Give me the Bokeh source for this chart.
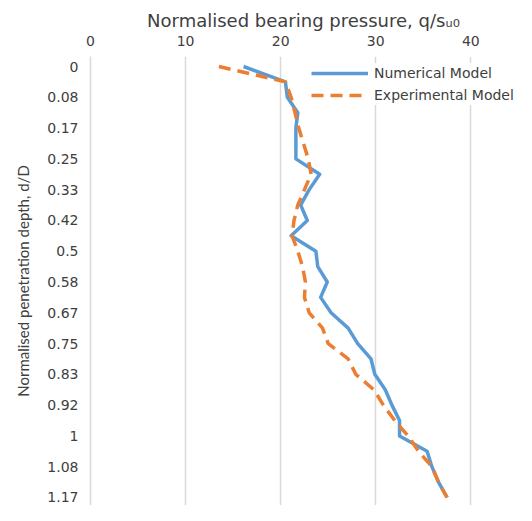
from bokeh.plotting import figure
from bokeh.models import Range1d, FixedTicker, Legend, LegendItem
from bokeh.embed import file_html
from bokeh.resources import INLINE

# depth d/D (every 1/24)
depth = [0.0, 0.0417, 0.0833, 0.125, 0.1667, 0.2083, 0.25, 0.2917, 0.3333, 0.375,
         0.4167, 0.4583, 0.5, 0.5417, 0.5833, 0.625, 0.6667, 0.7083, 0.75, 0.7917,
         0.8333, 0.875, 0.9167, 0.9583, 1.0, 1.0417, 1.0833, 1.125, 1.1667]

numerical = [16.1, 20.5, 20.7, 21.8, 21.6, 21.6, 21.6, 24.1, 23.0, 22.1,
             22.8, 21.1, 23.7, 23.9, 24.9, 24.2, 25.3, 27.1, 28.1, 29.5,
             29.9, 31.0, 31.7, 32.5, 32.5, 35.4, 35.9, 36.6, 37.5]

experimental = [13.5, 20.5, 21.1, 21.5, 21.9, 22.4, 22.9, 23.2, 22.5, 21.8,
                21.4, 21.2, 21.8, 22.3, 22.6, 22.5, 23.0, 24.4, 25.0, 27.1,
                27.9, 29.8, 30.8, 32.0, 33.4, 34.5, 35.9, 36.6, 37.5]

tick_pos = [0.0, 0.0833, 0.1667, 0.25, 0.3333, 0.4167, 0.5, 0.5833, 0.6667,
            0.75, 0.8333, 0.9167, 1.0, 1.0833, 1.1667]
tick_labels = ["0", "0.08", "0.17", "0.25", "0.33", "0.42", "0.5", "0.58", "0.67",
               "0.75", "0.83", "0.92", "1", "1.08", "1.17"]
x_ticks = [0, 10, 20, 30, 40]

p = figure(width=516, height=505, output_backend="svg", toolbar_location=None,
           x_axis_location="above",
           x_range=Range1d(0, 44.8), y_range=Range1d(1.1884, -0.0271),
           min_border_left=90, min_border_right=0, min_border_top=56, min_border_bottom=0)
p.outline_line_color = None
p.background_fill_color = "white"
p.border_fill_color = "white"

r1 = p.line(numerical, depth, line_color="#5B9BD5", line_width=3.5, line_join="round")
r2 = p.line(experimental, depth, line_color="#ED7D31", line_width=3.5, line_dash="12 7")

# x axis (top)
xa = p.xaxis[0]
xa.ticker = FixedTicker(ticks=x_ticks)
xa.axis_label = "Normalised bearing pressure, q/s\u1d64\u2080"
xa.axis_label_text_font = "DejaVu Sans"
xa.axis_label_text_font_size = "18px"
xa.axis_label_text_font_style = "normal"
xa.axis_label_text_color = "#404040"
xa.axis_label_standoff = 2
xa.major_label_text_font = "DejaVu Sans"
xa.major_label_text_font_size = "14px"
xa.major_label_text_color = "#404040"
xa.major_label_standoff = 5
xa.major_tick_line_color = None
xa.minor_tick_line_color = None
xa.axis_line_color = None

# y axis
ya = p.yaxis[0]
ya.ticker = FixedTicker(ticks=tick_pos)
ya.major_label_overrides = dict(zip(tick_pos, tick_labels))
ya.axis_label = "Normalised penetration depth, d/D"
ya.axis_label_text_font = "Lato"
ya.axis_label_text_font_size = "15px"
ya.axis_label_text_font_style = "normal"
ya.axis_label_text_color = "#404040"
ya.axis_label_standoff = 12
ya.major_label_text_font = "DejaVu Sans"
ya.major_label_text_font_size = "14px"
ya.major_label_text_color = "#404040"
ya.major_label_standoff = 6
ya.major_tick_line_color = None
ya.minor_tick_line_color = None
ya.axis_line_color = "#d9d9d9"
ya.axis_line_width = 1.5

p.xgrid.grid_line_color = "#d9d9d9"
p.xgrid.grid_line_width = 1.5
p.ygrid.grid_line_color = None

legend = Legend(items=[LegendItem(label="Numerical Model", renderers=[r1]),
                       LegendItem(label="Experimental Model", renderers=[r2])],
                location=(221, 400))
legend.margin = 0
legend.padding = 4
legend.spacing = 2
legend.glyph_width = 57
legend.glyph_height = 20
legend.label_height = 20
legend.label_standoff = 6
legend.label_text_font = "DejaVu Sans"
legend.label_text_font_size = "14px"
legend.label_text_color = "#404040"
legend.background_fill_color = "white"
legend.background_fill_alpha = 1
legend.border_line_color = None
p.add_layout(legend)

open("out.html", "w").write(file_html(p, INLINE))
